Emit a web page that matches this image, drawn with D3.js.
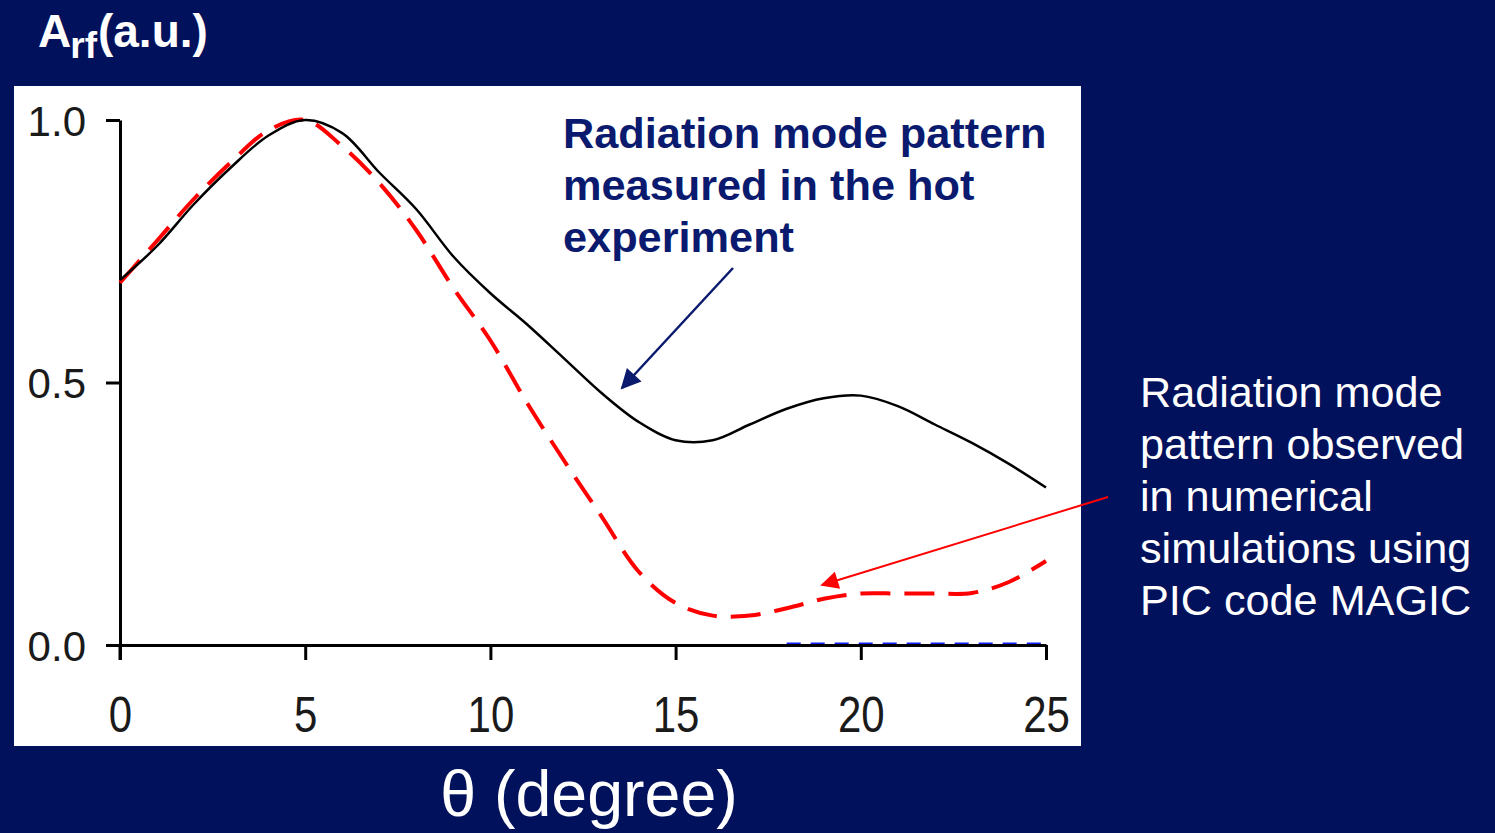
<!DOCTYPE html>
<html>
<head>
<meta charset="utf-8">
<script src="https://cdn.jsdelivr.net/npm/d3@7"></script>
<style>
  html, body { margin: 0; padding: 0; background: #02115c; }
  svg { display: block; }
</style>
</head>
<body>
<svg id="fig" width="1495" height="833"></svg>
<script>
// angle in degrees
const theta = [0, 1, 2, 3, 4, 5, 6, 7, 8, 9, 10, 11, 12, 13, 14, 15, 16, 17, 18, 19, 20, 21, 22, 23, 24, 25];
// measured in the hot experiment
const measured = [0.695, 0.76, 0.84, 0.91, 0.97, 1.0, 0.975, 0.90, 0.83, 0.74, 0.67, 0.61, 0.545, 0.48, 0.425, 0.39, 0.39, 0.42, 0.45, 0.47, 0.475, 0.455, 0.42, 0.385, 0.345, 0.30];
// PIC code MAGIC simulation
const simulated = [0.69, 0.77, 0.85, 0.92, 0.98, 1.0, 0.95, 0.88, 0.79, 0.68, 0.58, 0.46, 0.35, 0.245, 0.14, 0.08, 0.056, 0.056, 0.07, 0.088, 0.098, 0.098, 0.098, 0.099, 0.12, 0.16];
// faint third trace hidden along the baseline
const baseTheta = [18, 19, 20, 21, 22, 23, 24, 25];
const baseVals = [0, 0, 0, 0, 0, 0, 0, 0];

const xTicks = [0, 5, 10, 15, 20, 25];
const yTicks = [0.0, 0.5, 1.0];

const titleMain = "A";
const titleSub = "rf";
const titleRest = "(a.u.)";
const xLabel = "θ (degree)";
const noteMeasured = ["Radiation mode pattern", "measured in the hot", "experiment"];
const noteSim = ["Radiation mode", "pattern observed", "in numerical", "simulations using", "PIC code MAGIC"];

const FONT = "'Liberation Sans', Arial, sans-serif";
const svg = d3.select("#fig");

const x = d3.scaleLinear().domain([0, 25]).range([120, 1046]);
const y = d3.scaleLinear().domain([0, 1]).range([645, 120]);

// white plot panel
svg.append("rect")
  .attr("x", 14).attr("y", 86)
  .attr("width", 1067).attr("height", 660)
  .attr("fill", "#ffffff");

const defs = svg.append("defs");
defs.append("marker")
  .attr("id", "navyHead")
  .attr("viewBox", "0 0 10 10")
  .attr("refX", 9).attr("refY", 5)
  .attr("markerWidth", 26).attr("markerHeight", 20)
  .attr("markerUnits", "userSpaceOnUse")
  .attr("orient", "auto")
  .append("path").attr("d", "M0,0 L10,5 L0,10 z").attr("fill", "#0a1a6e");
defs.append("marker")
  .attr("id", "redHead")
  .attr("viewBox", "0 0 10 10")
  .attr("refX", 9).attr("refY", 5)
  .attr("markerWidth", 24).attr("markerHeight", 18)
  .attr("markerUnits", "userSpaceOnUse")
  .attr("orient", "auto")
  .append("path").attr("d", "M0,0 L10,5 L0,10 z").attr("fill", "#ff0000");

const line = d3.line()
  .x(d => x(d[0]))
  .y(d => y(d[1]))
  .curve(d3.curveCatmullRom);

// baseline trace (blue, mostly hidden by the axis)
svg.append("path")
  .datum(baseTheta.map((t, i) => [t, baseVals[i]]))
  .attr("d", line)
  .attr("fill", "none")
  .attr("stroke", "#1020ff")
  .attr("stroke-width", 3)
  .attr("stroke-dasharray", "14,10")
  .attr("transform", "translate(0,-1)");

// axes
const yAxis = d3.axisLeft(y).tickValues(yTicks).tickFormat(d3.format(".1f"))
  .tickSize(14).tickSizeOuter(0).tickPadding(20);
const xAxis = d3.axisBottom(x).tickValues(xTicks).tickFormat(d3.format("d"))
  .tickSize(15).tickSizeOuter(0);

const gy = svg.append("g").attr("transform", `translate(${x(0)},0)`).call(yAxis);
const gx = svg.append("g").attr("transform", `translate(0,${y(0)})`).call(xAxis);

[gx, gy].forEach(g => {
  g.select(".domain").attr("stroke", "#000").attr("stroke-width", 3);
  g.selectAll(".tick line").attr("stroke", "#000").attr("stroke-width", 3);
  g.selectAll(".tick text")
    .attr("fill", "#1a1a1a")
    .style("font-family", FONT)
    .style("font-size", "42px");
});
gy.selectAll(".tick text").attr("dy", "0.36em");
// x labels are drawn a bit taller than wide in the original
gx.selectAll(".tick text")
  .attr("y", 0).attr("dy", 0)
  .attr("transform", "translate(0,87) scale(1,1.17)");
// y axis runs down to the bottom of the tick under 0
gy.append("line").attr("x1", 0).attr("x2", 0).attr("y1", y(0)).attr("y2", y(0) + 15)
  .attr("stroke", "#000").attr("stroke-width", 3);

// simulation (dashed red)
svg.append("path")
  .datum(theta.map((t, i) => [t, simulated[i]]))
  .attr("d", line)
  .attr("fill", "none")
  .attr("stroke", "#ff0000")
  .attr("stroke-width", 4)
  .attr("stroke-dasharray", "30,14");

// measurement (solid black)
svg.append("path")
  .datum(theta.map((t, i) => [t, measured[i]]))
  .attr("d", line)
  .attr("fill", "none")
  .attr("stroke", "#000")
  .attr("stroke-width", 2.5);

// annotation arrows
svg.append("line")
  .attr("x1", 733).attr("y1", 268).attr("x2", 622).attr("y2", 388)
  .attr("stroke", "#0a1a6e").attr("stroke-width", 2.5)
  .attr("marker-end", "url(#navyHead)");
svg.append("line")
  .attr("x1", 1108).attr("y1", 497).attr("x2", 822).attr("y2", 585)
  .attr("stroke", "#ff0000").attr("stroke-width", 2)
  .attr("marker-end", "url(#redHead)");

// annotation texts
svg.append("text")
  .attr("x", 563).attr("y", 148)
  .attr("fill", "#0a1a6e")
  .style("font-family", FONT)
  .style("font-size", "43.3px").style("font-weight", "bold")
  .selectAll("tspan").data(noteMeasured).join("tspan")
  .attr("x", 563).attr("dy", (d, i) => i === 0 ? 0 : 52)
  .text(d => d);

svg.append("text")
  .attr("x", 1140).attr("y", 407)
  .attr("fill", "#ffffff")
  .style("font-family", FONT)
  .style("font-size", "43.2px")
  .selectAll("tspan").data(noteSim).join("tspan")
  .attr("x", 1140).attr("dy", (d, i) => i === 0 ? 0 : 52)
  .text(d => d);

// y title with subscript
const t = svg.append("text")
  .attr("x", 38).attr("y", 47)
  .attr("fill", "#ffffff")
  .style("font-family", FONT)
  .style("font-weight", "bold")
  .style("font-size", "46px");
t.append("tspan").text(titleMain);
t.append("tspan").attr("dy", 11).attr("dx", -1).style("font-size", "37px").text(titleSub);
t.append("tspan").attr("dy", -11).attr("dx", 1).text(titleRest);

// x title
svg.append("text")
  .attr("x", 589).attr("y", 816)
  .attr("text-anchor", "middle")
  .attr("fill", "#ffffff")
  .style("font-family", FONT)
  .style("font-size", "64.5px")
  .text(xLabel);
</script>
</body>
</html>
